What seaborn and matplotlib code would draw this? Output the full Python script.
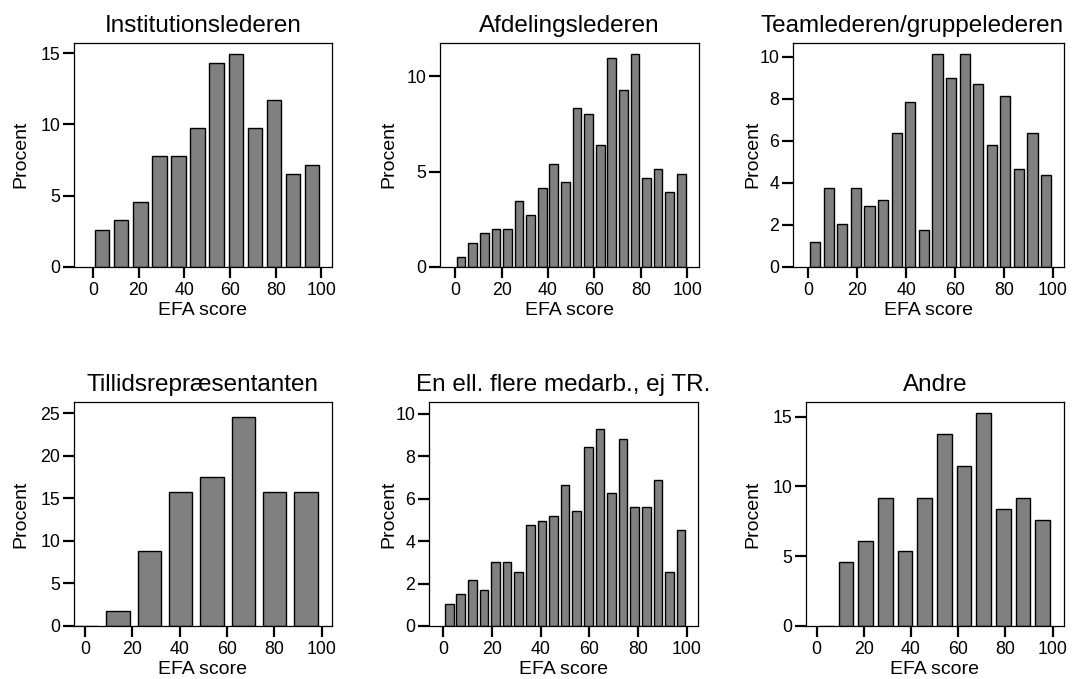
import numpy as np
import pandas as pd
import matplotlib
matplotlib.use("Agg")
import matplotlib.pyplot as plt
import matplotlib.transforms as mtransforms
import seaborn as sns

# ---- data: percentage of respondents per EFA-score bin ----
titles = [
    "Institutionslederen",
    "Afdelingslederen",
    "Teamlederen/gruppelederen",
    "Tillidsrepræsentanten",
    "En ell. flere medarb., ej TR.",
    "Andre",
]

institution_pct = [2.60, 3.25, 4.55, 7.79, 7.79, 9.74, 14.29, 14.94, 9.74, 11.69, 6.49, 7.14]
afdeling_pct = [0.53, 1.24, 1.75, 1.98, 1.98, 3.43, 2.70, 4.15, 5.39, 4.43,
                8.32, 8.04, 6.37, 10.98, 9.28, 11.20, 4.64, 5.13, 3.92, 4.89]
team_pct = [1.16, 3.77, 2.03, 3.77, 2.90, 3.19, 6.38, 7.83, 1.74,
            10.14, 8.99, 10.14, 8.70, 5.80, 8.12, 4.64, 6.38, 4.35]
tr_pct = [0.0, 1.75, 8.77, 15.79, 17.54, 24.56, 15.79, 15.79]
medarb_pct = [1.05, 1.49, 2.15, 1.71, 3.00, 3.00, 2.56, 4.74, 4.96, 5.16, 6.66,
              5.40, 8.41, 9.26, 6.26, 8.82, 5.60, 5.60, 6.89, 2.56, 4.50]
andre_pct = [0.0, 4.58, 6.11, 9.16, 5.34, 9.16, 13.74, 11.45, 15.27, 8.40, 9.16, 7.63]

# bin edges of each histogram (EFA score)
institution_edges = np.linspace(0, 100, 13)
afdeling_edges = np.linspace(0, 100, 21)
team_edges = np.linspace(0, 100, 19)
tr_edges = np.linspace(-5.9, 99.9, 9)
medarb_edges = np.linspace(0, 100, 22)
andre_edges = np.linspace(0, 100, 13)

x_ticks = [0, 20, 40, 60, 80, 100]
y_ticks = [
    [0, 5, 10, 15],
    [0, 5, 10],
    [0, 2, 4, 6, 8, 10],
    [0, 5, 10, 15, 20, 25],
    [0, 2, 4, 6, 8, 10],
    [0, 5, 10, 15],
]

panels = [
    (institution_pct, institution_edges),
    (afdeling_pct, afdeling_edges),
    (team_pct, team_edges),
    (tr_pct, tr_edges),
    (medarb_pct, medarb_edges),
    (andre_pct, andre_edges),
]

# ---- layout (pixels on a 1083 x 679 canvas) ----
W, H = 1083, 679
boxes = [  # left, right, top, bottom
    (74, 332, 42.7, 266.7),
    (440, 698.7, 42.7, 266.7),
    (793, 1063.7, 42.7, 266.7),
    (74, 331.7, 402.3, 626),
    (429, 698.3, 402.3, 626),
    (806, 1063.7, 402.3, 626),
]
xlims = [(-8.2, 104.6), (-6.6, 105.0), (-6.3, 104.4),
         (-4.65, 104.2), (-5.9, 104.7), (-4.5, 104.7)]
ylims = [15.75, 11.77, 10.67, 26.3, 10.53, 16.03]
title_loc = ["center", "center", "right", "center", "center", "center"]
ylabel_x = [29, 397, 761, 29, 397, 761]

sns.set_style("ticks")
plt.rcParams["font.family"] = ["Liberation Sans", "DejaVu Sans"]
plt.rcParams.update({
    "axes.linewidth": 0.9,
    "text.color": "black",
    "axes.labelcolor": "black",
    "axes.edgecolor": "black",
    "xtick.color": "black",
    "ytick.color": "black",
})

fig = plt.figure(figsize=(W / 100, H / 100), dpi=100)

for i, ((pct, edges), title) in enumerate(zip(panels, titles)):
    l, r, t, b = boxes[i]
    ax = fig.add_axes([l / W, 1 - b / H, (r - l) / W, (b - t) / H])
    centres = (edges[:-1] + edges[1:]) / 2
    df = pd.DataFrame({"score": centres, "pct": pct})
    sns.barplot(data=df, x="score", y="pct", native_scale=True, width=0.75,
                color="#808080", saturation=1, edgecolor="black",
                linewidth=1.0, errorbar=None, ax=ax)
    ax.set_xlim(*xlims[i])
    ax.set_ylim(0, ylims[i])
    ax.set_xticks(x_ticks)
    ax.set_xticklabels([str(v) for v in x_ticks])
    ax.set_yticks(y_ticks[i])
    ax.set_yticklabels([str(v) for v in y_ticks[i]])
    ax.tick_params(axis="both", direction="out", length=8, width=1.6,
                   labelsize=12.8, pad=3, color="black", labelcolor="black")
    ax.tick_params(axis="y", pad=2)
    for sp in ax.spines.values():
        sp.set_color("black")
        sp.set_visible(True)
    ax.set_title(title, fontsize=17.5, loc=title_loc[i], pad=8, color="black")
    ax.set_xlabel("EFA score", fontsize=14, labelpad=2, color="black")
    ax.set_ylabel("Procent", fontsize=14, color="black")
    trans = mtransforms.blended_transform_factory(fig.transFigure, ax.transAxes)
    ax.yaxis.set_label_coords(ylabel_x[i] / W, 0.5, transform=trans)

fig.savefig("out.png", dpi=100, facecolor="white")
